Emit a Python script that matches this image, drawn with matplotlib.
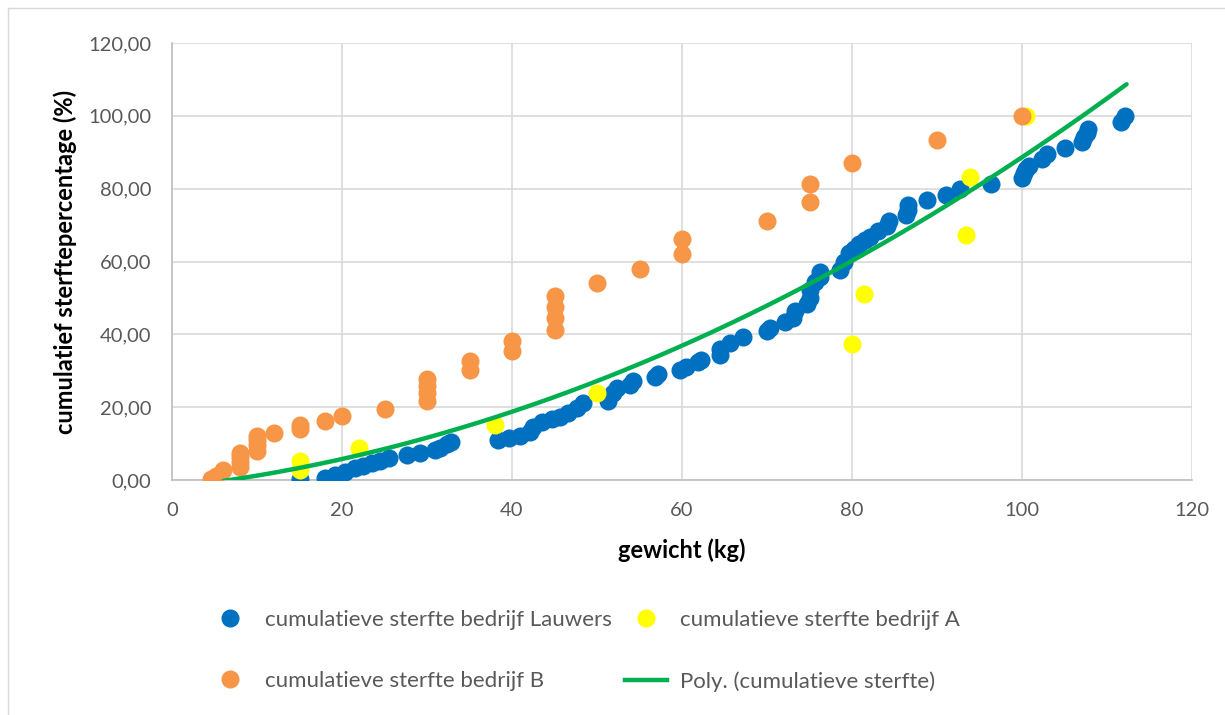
import matplotlib.pyplot as plt
import numpy as np
from matplotlib.ticker import FuncFormatter, MultipleLocator
import matplotlib.lines as mlines

plt.rcParams['font.family'] = ['Lato', 'DejaVu Sans']

# bedrijf Lauwers (blauw)
lauwers_x = [15, 18, 19.2, 20.4, 21.5, 22.5, 23.5, 24.5, 25.5, 27.6, 29.2, 30.9, 31.5, 32.3, 32.8,
             38.4, 39.6, 40.9, 42.1, 42.5, 43.5, 44.7, 45.6, 46.6, 47.6, 48.4,
             51.3, 51.9, 52.3, 53.9, 54.2, 56.8, 57.2, 59.8, 60.5, 61.9, 62.2,
             64.5, 64.5, 65.6, 67.2, 70.0, 70.4, 72.1, 73.1, 73.3, 74.7, 75.1, 75.1, 75.6, 76.2, 76.2,
             78.6, 79.0, 79.6, 80.2, 80.8, 81.5, 82.1, 83.1, 84.1, 84.3,
             86.4, 86.6, 86.6, 88.8, 91.1, 92.7, 96.4,
             100.0, 100.2, 100.5, 100.8, 102.3, 102.9, 105.1, 107.0, 107.3, 107.6, 107.8, 111.7, 112.1]
lauwers_y = [0.3, 0.5, 1.4, 2.3, 3.2, 3.8, 4.6, 5.3, 6.0, 6.8, 7.3, 8.2, 8.8, 9.8, 10.5,
             11.0, 11.4, 12.1, 13.3, 14.5, 15.8, 16.7, 17.4, 18.5, 19.7, 21.1,
             21.8, 23.8, 25.2, 26.0, 27.2, 28.2, 29.0, 30.2, 31.0, 32.5, 33.0,
             34.3, 36.0, 37.5, 39.2, 40.8, 41.8, 43.3, 44.5, 46.5, 48.2, 50.0, 52.2, 54.5, 55.8, 57.0,
             57.8, 60.0, 62.2, 63.5, 64.8, 65.8, 66.8, 68.5, 69.8, 71.0,
             72.8, 74.2, 75.5, 76.8, 78.3, 80.0, 81.2,
             82.8, 84.2, 85.3, 86.2, 88.2, 89.6, 91.3, 92.8, 94.3, 95.3, 96.4, 98.3, 100.0]

# bedrijf A (geel)
a_x = [15, 15, 22, 38, 50, 80, 81.4, 93.4, 93.9, 100.5]
a_y = [2.7, 5.2, 8.7, 15.1, 23.8, 37.4, 51.1, 67.2, 83.2, 100.0]

# bedrijf B (oranje)
b_x = [4.6, 5.2, 6.0, 8, 8, 8, 8, 10, 10, 10, 10, 12, 15, 15, 18, 20, 25,
       30, 30, 30, 30, 35, 35, 40, 40, 45, 45, 45, 45, 50, 55, 60, 60, 70, 75, 75, 80, 90, 100]
b_y = [0.4, 1.2, 2.8, 3.6, 5.0, 6.2, 7.4, 8.0, 9.6, 11.0, 12.2, 13.0, 14.0, 15.1, 16.3, 17.7, 19.5,
       21.6, 23.8, 25.9, 27.8, 30.2, 32.7, 35.3, 38.2, 41.2, 44.4, 47.4, 50.6, 54.0, 57.9, 62.1, 66.3,
       71.2, 76.3, 81.4, 87.0, 93.3, 100.0]

trend_x = [6, 12.7, 20, 32.7, 40, 50.4, 60, 69.2, 71.5, 88, 97.4, 112.1]
trend_y = [0, 2.0, 6.0, 13.0, 18.8, 27.5, 37.0, 46.7, 50.0, 71.0, 84.7, 108.2]

blue = '#0070c0'
yellow = '#ffff00'
orange = '#f79646'
green = '#00b050'
txt = '#595959'

fig = plt.figure(figsize=(12.25, 7.15), dpi=100)
ax = fig.add_axes([172/1225, 1 - 480/715, 1020/1225, 437/715])

ax.plot(lauwers_x, lauwers_y, 'o', color=blue, ms=13, mec='none', zorder=3)
ax.plot(a_x, a_y, 'o', color=yellow, ms=13, mec='none', zorder=4)
ax.plot(b_x, b_y, 'o', color=orange, ms=13, mec='none', zorder=5)

coef = np.polyfit(trend_x, trend_y, 2)
tx = np.linspace(6, 112.3, 200)
ax.plot(tx, np.polyval(coef, tx), color=green, lw=3.2, solid_capstyle='round', zorder=6)

ax.set_xlim(0, 120)
ax.set_ylim(0, 120)
ax.xaxis.set_major_locator(MultipleLocator(20))
ax.yaxis.set_major_locator(MultipleLocator(20))
ax.yaxis.set_major_formatter(FuncFormatter(lambda v, p: ('%.2f' % v).replace('.', ',')))
ax.grid(True, color='#d9d9d9', lw=1.2)
ax.set_axisbelow(True)
for s in ['top', 'right']:
    ax.spines[s].set_visible(False)
for s in ['left', 'bottom']:
    ax.spines[s].set_color('#bfbfbf')
    ax.spines[s].set_linewidth(1.2)
ax.tick_params(length=0, labelsize=14.5, labelcolor=txt)
ax.tick_params(axis='y', pad=15)
ax.tick_params(axis='x', pad=16)

ax.set_xlabel('gewicht (kg)', fontsize=17, fontweight='bold', color='black', labelpad=14)
ax.set_ylabel('cumulatief sterftepercentage (%)', fontsize=17, fontweight='bold', color='black', labelpad=8)

h1 = mlines.Line2D([], [], ls='none', marker='o', color=blue, ms=13, mec='none')
h2 = mlines.Line2D([], [], ls='none', marker='o', color=orange, ms=13, mec='none')
h3 = mlines.Line2D([], [], ls='none', marker='o', color=yellow, ms=13, mec='none')
h4 = mlines.Line2D([], [], color=green, lw=3.2)
leg = fig.legend([h1, h2, h3, h4],
                 ['cumulatieve sterfte bedrijf Lauwers', 'cumulatieve sterfte bedrijf B',
                  'cumulatieve sterfte bedrijf A', 'Poly. (cumulatieve sterfte)'],
                 ncol=2, loc='upper left', bbox_to_anchor=(209/1225, 1 - 610/715),
                 borderaxespad=0, borderpad=0,
                 frameon=False, fontsize=16, labelcolor=txt, labelspacing=1.85,
                 columnspacing=0.6, handlelength=1.9, handletextpad=0.6)

# rand van het diagram
fig.add_artist(plt.Line2D([8/1225, 8/1225], [0, 1 - 8/715], color='#d9d9d9', lw=1, transform=fig.transFigure))
fig.add_artist(plt.Line2D([8/1225, 1], [1 - 8/715, 1 - 8/715], color='#d9d9d9', lw=1, transform=fig.transFigure))

fig.savefig('out.png', dpi=100)
